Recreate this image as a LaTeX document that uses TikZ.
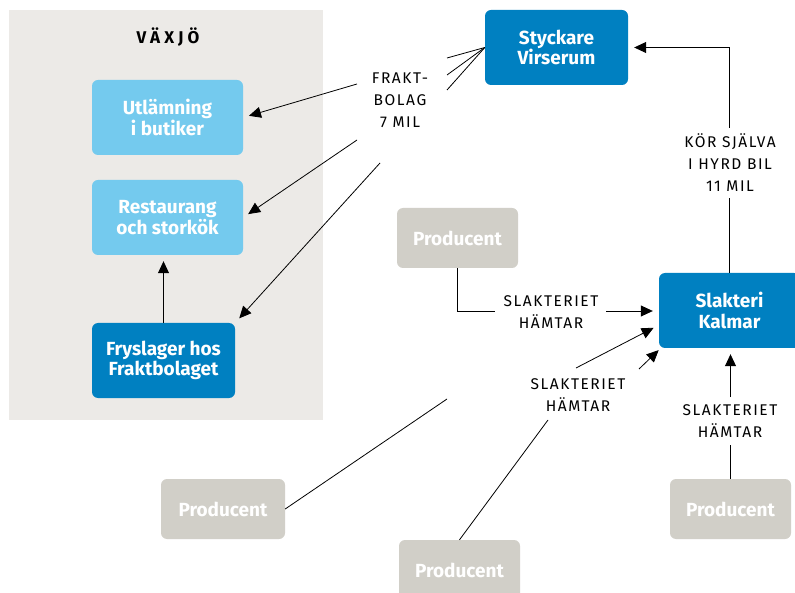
\documentclass[tikz,border=0pt]{standalone}
\usepackage{fontspec}
\setmainfont{Fira Sans}
\newfontfamily\boxfont{Fira Sans}
\newfontfamily\tagfont[LetterSpace=10]{Fira Sans}
\newfontfamily\headfont[LetterSpace=24]{Fira Sans}
\usetikzlibrary{arrows.meta}
\definecolor{bgGray}{HTML}{ECEAE7}
\definecolor{lightBlue}{HTML}{74CAEE}
\definecolor{darkBlue}{HTML}{0080C1}
\definecolor{prodGray}{HTML}{D1CFC8}
\tikzset{
  box/.style={rounded corners=6pt, inner sep=0pt, align=center, text=white,
    font=\boxfont\bfseries\fontsize{19}{20.5}\selectfont},
  lightbox/.style={box, fill=lightBlue, minimum width=151pt, minimum height=75pt},
  darkbox/.style={box, fill=darkBlue, minimum height=75pt},
  prodbox/.style={box, fill=prodGray, minimum width=121pt, minimum height=60pt},
  tag/.style={align=center, inner sep=0pt, font=\tagfont\fontsize{15.5}{22}\selectfont},
  link/.style={line width=0.8pt},
  arrow/.style={link, -{Triangle[length=12pt,width=11pt]}, shorten >=6pt},
}
\begin{document}
\begin{tikzpicture}[x=1pt, y=-1pt]
  \clip (0,0) rectangle (795,593);
  \fill[white] (0,0) rectangle (795,593);

  % Växjö area
  \fill[bgGray] (9,10) rectangle (323,420);
  \node[font=\headfont\bfseries\fontsize{17}{18}\selectfont] (vaxjo) at (168,37) {VÄXJÖ};
  \node[lightbox] (utl) at (167.5,117.5) {Utlämning\\i butiker};
  \node[lightbox] (rest) at (167.5,217.5) {Restaurang\\och storkök};
  \node[darkbox, minimum width=143pt] (frys) at (163.5,360.5) {Fryslager hos\\Fraktbolaget};

  % Slaughterhouse and cutting plant
  \node[darkbox, minimum width=143pt] (styck) at (556.5,47.5) {Styckare\\Virserum};
  \node[darkbox, minimum width=141pt] (slak) at (729.5,310.5) {Slakteri\\Kalmar};

  % Producers
  \node[prodbox] (p1) at (457.5,238) {Producent};
  \node[prodbox, minimum width=124pt] (p2) at (223,509) {Producent};
  \node[prodbox] (p3) at (459.5,570) {Producent};
  \node[prodbox] (p4) at (730.5,509) {Producent};

  % Labels
  \node[tag] (frakt) at (400,100) {FRAKT-\\BOLAG\\7 MIL};
  \node[tag] (kor) at (730,163) {KÖR SJÄLVA\\I HYRD BIL\\11 MIL};
  \node[tag] (hamt1) at (551,312) {SLAKTERIET\\HÄMTAR};
  \node[tag] (hamt2) at (578,395) {SLAKTERIET\\HÄMTAR};
  \node[tag] (hamt3) at (730,421) {SLAKTERIET\\HÄMTAR};

  % Line ends beside the labels
  \coordinate (fa) at (447,58);
  \coordinate (fb) at (447,75);
  \coordinate (fc) at (447,90);
  \coordinate (fu) at (357,84);
  \coordinate (fr) at (357,140);
  \coordinate (ff) at (380,163);
  \coordinate (k1) at (729.5,198);
  \coordinate (k2) at (729.5,128);
  \coordinate (s1a) at (495,311);
  \coordinate (s1b) at (606,311);
  \coordinate (m1) at (447,399);
  \coordinate (m2) at (576,368);
  \coordinate (t2) at (659,325);
  \coordinate (m3) at (548,420);
  \coordinate (m4) at (639,369);
  \coordinate (t3) at (663,346);
  \coordinate (r1) at (730.5,445);
  \coordinate (r2) at (730.5,397);

  % Cutting plant to Växjö
  \draw[link] (styck.west) -- (fa);
  \draw[link] (styck.west) -- (fb);
  \draw[link] (styck.west) -- (fc);
  \draw[arrow] (fu) -- (utl.east);
  \draw[arrow] (fr) -- (rest.east);
  \draw[arrow] (ff) -- (frys.north east);
  \draw[arrow] (frys.north) -- (frys.north |- rest.south);

  % Slaughterhouse to cutting plant
  \draw[link] (slak.north) -- (k1);
  \draw[arrow] (k2) |- (styck.east);

  % Producers to slaughterhouse
  \draw[link] (p1.south) |- (s1a);
  \draw[arrow] (s1b) -- (s1b -| slak.west);
  \draw[link] (p2.east) -- (m1);
  \draw[arrow] (m2) -- (t2);
  \draw[link] (p3.north) -- (m3);
  \draw[arrow] (m4) -- (t3);
  \draw[link] (p4.north) -- (r1);
  \draw[arrow] (r2) -- (r2 |- slak.south);
\end{tikzpicture}
\end{document}
